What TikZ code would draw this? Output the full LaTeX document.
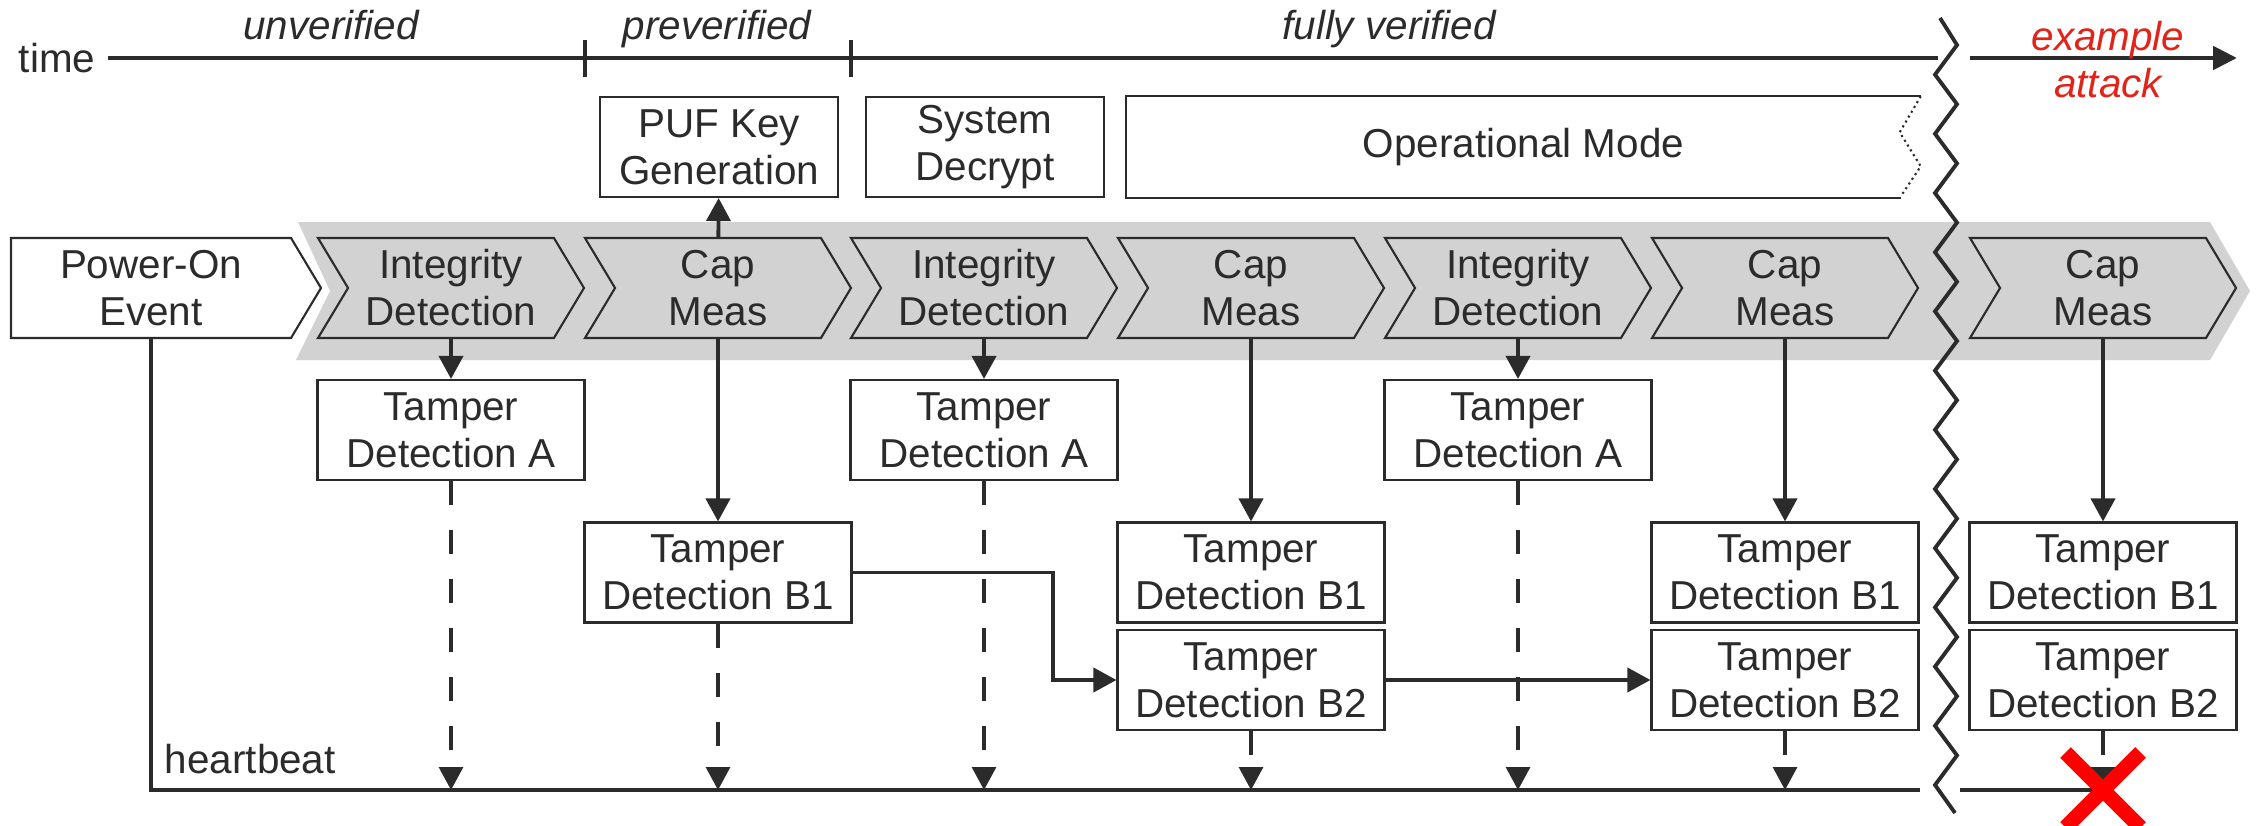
\documentclass[tikz,border=0pt]{standalone}
\usepackage{fontspec}
\setmainfont{Liberation Sans}
\usetikzlibrary{arrows.meta,shapes.symbols,shapes.misc,calc}
\definecolor{inkcol}{HTML}{2B2B2B}
\definecolor{bandcol}{HTML}{D2D2D2}
\definecolor{attackcol}{HTML}{E2231A}
\definecolor{failcol}{HTML}{FF0000}

\begin{document}
\begin{tikzpicture}[
  font=\fontsize{11.5}{13.4}\selectfont, text=inkcol,
  chev/.style={shape=signal, signal from=west, signal to=east, signal pointer angle=118,
    draw=inkcol, line width=0.6pt, fill=bandcol, minimum width=2.66cm, minimum height=1cm,
    align=center, inner sep=0pt},
  pwrbox/.style={chev, signal from=nowhere, fill=white, minimum width=3.1cm},
  box/.style={draw=inkcol, line width=0.6pt, fill=white, minimum width=2.67cm,
    minimum height=1cm, align=center, inner sep=0pt},
  phase/.style={font=\fontsize{11.5}{13.4}\selectfont\itshape, anchor=base},
  arr/.style={-{Triangle[length=0.23cm,width=0.24cm]}, line width=1.1pt, draw=inkcol},
  darr/.style={arr, line width=0.9pt, dash pattern=on 0.24cm off 0.25cm},
  tline/.style={line width=1.4pt, draw=inkcol},
  hbline/.style={line width=1.1pt, draw=inkcol},
  thinline/.style={line width=0.6pt, draw=inkcol}
]
  \useasboundingbox (0,0) rectangle (22.61,-8.26);

  \fill[bandcol] (2.98,-2.22) -- (22.10,-2.22) -- (22.50,-2.91) -- (22.10,-3.60)
    -- (2.96,-3.60) -- (3.30,-2.91) -- cycle;

  \node[anchor=west] (time) at (0.065,-0.58) {time};
  \coordinate (tend) at (19.38,-0.58);
  \draw[tline] (time.east) -- (tend);
  \draw[tline, line width=1pt] (5.85,-0.40) -- (5.85,-0.77);
  \draw[tline, line width=1pt] (8.51,-0.40) -- (8.51,-0.77);
  \node[phase] (unv) at (3.31,-0.40) {unverified};
  \node[phase] (prev) at (7.17,-0.40) {preverified};
  \node[phase] (fullv) at (13.89,-0.40) {fully verified};
  \coordinate (astart) at (19.70,-0.58);
  \coordinate (aend) at (22.37,-0.58);
  \draw[tline, -{Triangle[length=0.24cm,width=0.23cm]}] (astart) -- (aend);
  \node[align=center, text=attackcol, font=\fontsize{11.5}{13.4}\selectfont\itshape] (atk)
    at (21.08,-0.60) {example\\attack};

  \node[box, minimum width=2.38cm] (puf) at (7.19,-1.47) {PUF Key\\Generation};
  \node[box, minimum width=2.38cm] (dec) at (9.85,-1.47) {System\\Decrypt};
  \node[minimum width=7.93cm, minimum height=1cm, inner sep=0pt] (opm) at (15.235,-1.47)
    {Operational Mode};
  \draw[thinline] (opm.north east) -- (opm.north west) -- (opm.south west)
    -- ($(opm.south east)+(-0.20,0)$);
  \draw[thinline, densely dotted] (opm.north east) -- ++(-0.21,-0.36) -- ++(0.21,-0.34)
    -- ++(-0.20,-0.30);

  \node[pwrbox] (pwr) at (1.51,-2.88) {Power-On\\Event};
  \node[chev] (i1) at (4.51,-2.88) {Integrity\\Detection};
  \node[chev] (c1) at (7.18,-2.88) {Cap\\Meas};
  \node[chev] (i2) at (9.84,-2.88) {Integrity\\Detection};
  \node[chev] (c2) at (12.51,-2.88) {Cap\\Meas};
  \node[chev] (i3) at (15.18,-2.88) {Integrity\\Detection};
  \node[chev] (c3) at (17.85,-2.88) {Cap\\Meas};
  \node[chev] (c4) at (21.03,-2.88) {Cap\\Meas};

  \node[box] (ta1) at (4.51,-4.30) {Tamper\\Detection A};
  \node[box] (ta2) at (9.84,-4.30) {Tamper\\Detection A};
  \node[box] (ta3) at (15.18,-4.30) {Tamper\\Detection A};
  \node[box] (b1a) at (7.18,-5.725) {Tamper\\Detection B1};
  \node[box] (b1b) at (12.51,-5.725) {Tamper\\Detection B1};
  \node[box] (b2b) at (12.51,-6.80) {Tamper\\Detection B2};
  \node[box] (b1c) at (17.85,-5.725) {Tamper\\Detection B1};
  \node[box] (b2c) at (17.85,-6.80) {Tamper\\Detection B2};
  \node[box] (b1d) at (21.03,-5.725) {Tamper\\Detection B1};
  \node[box] (b2d) at (21.03,-6.80) {Tamper\\Detection B2};

  \draw[tline, line width=1.1pt] (19.40,-0.18)
    \foreach \i in {0,...,12}{ -- (19.57,{-0.45-0.592*\i}) -- (19.35,{-0.746-0.592*\i}) }
    -- (19.55,-8.13);

  \coordinate (hbl) at (19.20,-7.90);
  \coordinate (hbr) at (19.60,-7.90);
  \draw[hbline] (pwr.south) |- (hbl);
  \node[anchor=base west] (hbt) at (1.525,-7.73) {heartbeat};

  \draw[arr] (c1) -- (puf);
  \draw[arr] (i1) -- (ta1);
  \draw[arr] (i2) -- (ta2);
  \draw[arr] (i3) -- (ta3);
  \draw[arr] (c1) -- (b1a);
  \draw[arr] (c2) -- (b1b);
  \draw[arr] (c3) -- (b1c);
  \draw[arr] (c4) -- (b1d);
  \draw[arr] (b1a.east) -- ++(2.0,0) |- (b2b.west);
  \draw[arr] (b2b) -- (b2c);

  \draw[darr] (ta1) -- (ta1 |- hbl);
  \draw[darr] (ta2) -- (ta2 |- hbl);
  \draw[darr] (ta3) -- (ta3 |- hbl);
  \draw[darr] (b1a) -- (b1a |- hbl);
  \draw[darr] (b2b) -- (b2b |- hbl);
  \draw[darr] (b2c) -- (b2c |- hbl);
  \draw[darr] (b2d) -- (b2d |- hbr);
  \draw[hbline] (hbr) -- (b2d |- hbr);
  \node[cross out, draw=failcol, line width=0.15cm, minimum size=0.6cm, inner sep=0pt]
    (fail) at (21.03,-7.90) {};
\end{tikzpicture}
\end{document}
